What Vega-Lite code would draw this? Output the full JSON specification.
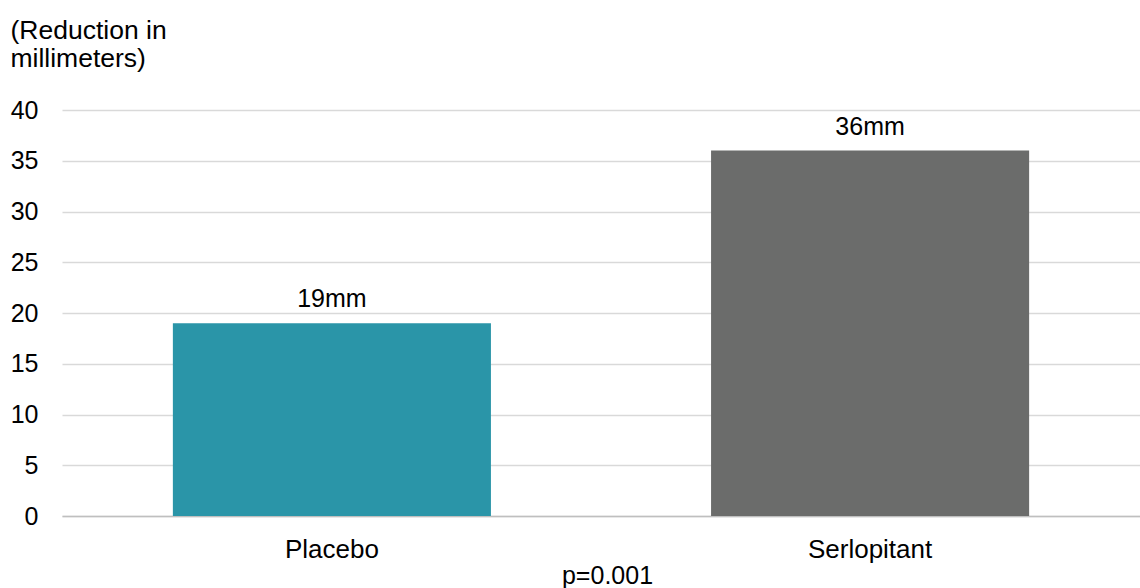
{
  "$schema": "https://vega.github.io/schema/vega-lite/v6.json",
  "width": 1078,
  "height": 406,
  "autosize": {"type": "none"},
  "padding": {"left": 62, "top": 110, "right": 0, "bottom": 72},
  "background": "white",
  "config": {
    "view": {"stroke": null},
    "font": "Liberation Sans",
    "axis": {"labelFont": "Liberation Sans", "titleFont": "Liberation Sans"}
  },
  "data": {
    "values": [
      {"group": "Placebo", "value": 19, "label": "19mm"},
      {"group": "Serlopitant", "value": 36, "label": "36mm"}
    ]
  },
  "encoding": {
    "x": {
      "field": "group",
      "type": "nominal",
      "sort": null,
      "scale": {"paddingInner": 0.409, "paddingOuter": 0.206},
      "axis": {
        "labelAngle": 0,
        "labelFontSize": 26,
        "labelColor": "#000000",
        "labelPadding": 20,
        "ticks": false,
        "domain": true,
        "domainColor": "#bfbfbf",
        "domainWidth": 1.5,
        "title": "p=0.001",
        "titleFontSize": 25,
        "titleFontWeight": "normal",
        "titleColor": "#000000",
        "titleBaseline": "alphabetic",
        "titleY": 67,
        "titleX": 545
      }
    },
    "y": {
      "field": "value",
      "type": "quantitative",
      "scale": {"domain": [0, 40]},
      "axis": {
        "values": [0, 5, 10, 15, 20, 25, 30, 35, 40],
        "labelFontSize": 25,
        "labelColor": "#000000",
        "labelPadding": 24,
        "ticks": false,
        "domain": false,
        "gridColor": "#d9d9d9",
        "gridWidth": 1.5,
        "title": ["(Reduction in", "millimeters)"],
        "titleAngle": 0,
        "titleAlign": "left",
        "titleBaseline": "alphabetic",
        "titleFontSize": 26.5,
        "titleFontWeight": "normal",
        "titleColor": "#000000",
        "titleLineHeight": 28,
        "titleX": -52,
        "titleY": -72
      }
    }
  },
  "layer": [
    {
      "mark": {"type": "bar"},
      "encoding": {
        "color": {
          "field": "group",
          "type": "nominal",
          "scale": {"domain": ["Placebo", "Serlopitant"], "range": ["#2a95a8", "#6b6c6b"]},
          "legend": null
        }
      }
    },
    {
      "mark": {"type": "text", "baseline": "alphabetic", "dy": -16, "fontSize": 25, "color": "#000000"},
      "encoding": {"text": {"field": "label"}}
    }
  ]
}
